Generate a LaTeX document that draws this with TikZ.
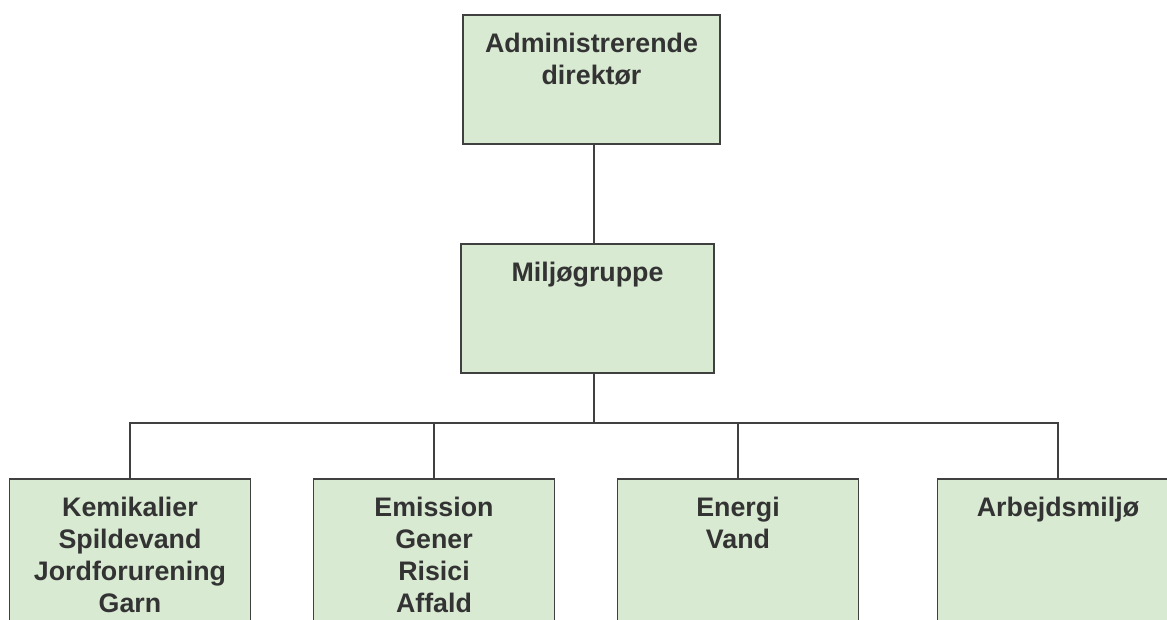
\documentclass[tikz,border=0pt]{standalone}
\usepackage{fontspec}
\setmainfont{Liberation Sans}
\usetikzlibrary{positioning}

\definecolor{boxfill}{RGB}{217,234,211}
\definecolor{boxline}{RGB}{64,64,64}
\definecolor{txtgray}{RGB}{51,51,51}

\begin{document}
\begin{tikzpicture}[
x=1pt,y=-1pt,
node distance=19pt,
every node/.style={inner sep=0pt}
%,scale=1, every node/.style={transform shape}
]

  \tikzstyle{box}=[draw=boxline,fill=boxfill,line width=1.5pt,minimum height=129pt]
  \tikzstyle{lowbox}=[box,minimum width=241pt,minimum height=180pt]
  \tikzstyle{txt}=[text=txtgray,font=\bfseries\fontsize{26.8}{32}\selectfont,align=center]
  \tikzstyle{conn}=[draw=boxline,line width=1.5pt]

  \clip (0,0) rectangle (1167,619);

  \node (adm) [box,minimum width=257pt] at (591.5,79.5) {};
  \node (admtxt) [txt,below=of adm.north] {Administrerende\\direktør};

  \node (mg) [box,minimum width=253pt] at (587.5,308.5) {};
  \node (mgtxt) [txt,below=of mg.north] {Miljøgruppe};

  \node (kem) [lowbox] at (130,569) {};
  \node (kemtxt) [txt,below=of kem.north] {Kemikalier\\Spildevand\\Jordforurening\\Garn};

  \node (emi) [lowbox] at (434,569) {};
  \node (emitxt) [txt,below=of emi.north] {Emission\\Gener\\Risici\\Affald};

  \node (ene) [lowbox] at (738,569) {};
  \node (enetxt) [txt,below=of ene.north] {Energi\\Vand};

  \node (arb) [lowbox] at (1058,569) {};
  \node (arbtxt) [txt,below=of arb.north] {Arbejdsmiljø};

  \coordinate (hub) at (594,423);

  \draw [conn] (adm.south -| hub) -- (mg.north -| hub);
  \draw [conn,line width=2pt] (mg.south -| hub) -- (hub);

  \draw [conn] (hub) -| (kem.north);
  \draw [conn] (hub) -| (emi.north);
  \draw [conn] (hub) -| (ene.north);
  \draw [conn] (hub) -| (arb.north);

\end{tikzpicture}
\end{document}
